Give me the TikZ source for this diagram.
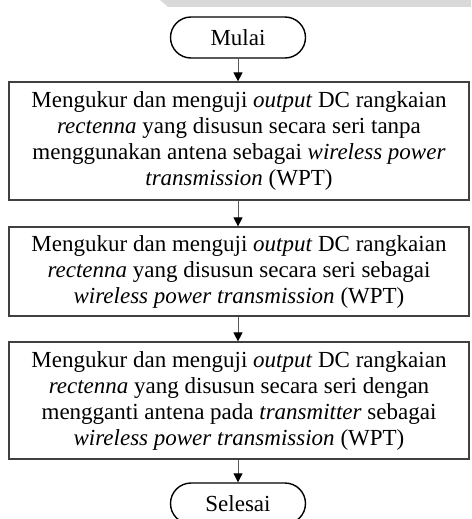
\documentclass[tikz,border=0pt]{standalone}
\usepackage{fontspec}
\setmainfont{Liberation Serif}
\usetikzlibrary{shapes.misc,arrows.meta}
\begin{document}
\begin{tikzpicture}[x=1pt,y=-1pt,
  txt/.style={font=\fontsize{23}{26}\selectfont},
  term/.style={rounded rectangle, draw=black, line width=1.4pt, minimum width=135pt, minimum height=41pt, inner sep=0pt, txt},
  procbox/.style={rectangle, draw=black!75, line width=1.2pt, minimum width=460pt, inner sep=0pt, align=center, txt},
  flow/.style={draw=black!65, line width=1pt, -{Triangle[length=9pt,width=9pt,color=black]}}
]
\useasboundingbox (0,0) rectangle (471,519);
\fill[black!15] (160,0) -- (471,0) -- (471,7) -- (168,7) -- cycle;
\node[term] (start) at (238,37.5) {Mulai};
\node[procbox, minimum height=118pt] (b1) at (239,141) {Mengukur dan menguji \textit{output} DC rangkaian\\
\textit{rectenna} yang disusun secara seri tanpa\\
menggunakan antena sebagai \textit{wireless power}\\
\textit{transmission} (WPT)};
\node[procbox, minimum height=89pt] (b2) at (239,271.5) {Mengukur dan menguji \textit{output} DC rangkaian\\
\textit{rectenna} yang disusun secara seri sebagai\\
\textit{wireless power transmission} (WPT)};
\node[procbox, minimum height=117pt] (b3) at (239,400.5) {Mengukur dan menguji \textit{output} DC rangkaian\\
\textit{rectenna} yang disusun secara seri dengan\\
mengganti antena pada \textit{transmitter} sebagai\\
\textit{wireless power transmission} (WPT)};
\node[term] (end) at (238,503.5) {Selesai};
\draw[flow] (start.south) -- (start.south |- b1.north);
\draw[flow] (b1.south -| start.south) -- (start.south |- b2.north);
\draw[flow] (b2.south -| start.south) -- (start.south |- b3.north);
\draw[flow] (b3.south -| start.south) -- (end.north);
\end{tikzpicture}
\end{document}
